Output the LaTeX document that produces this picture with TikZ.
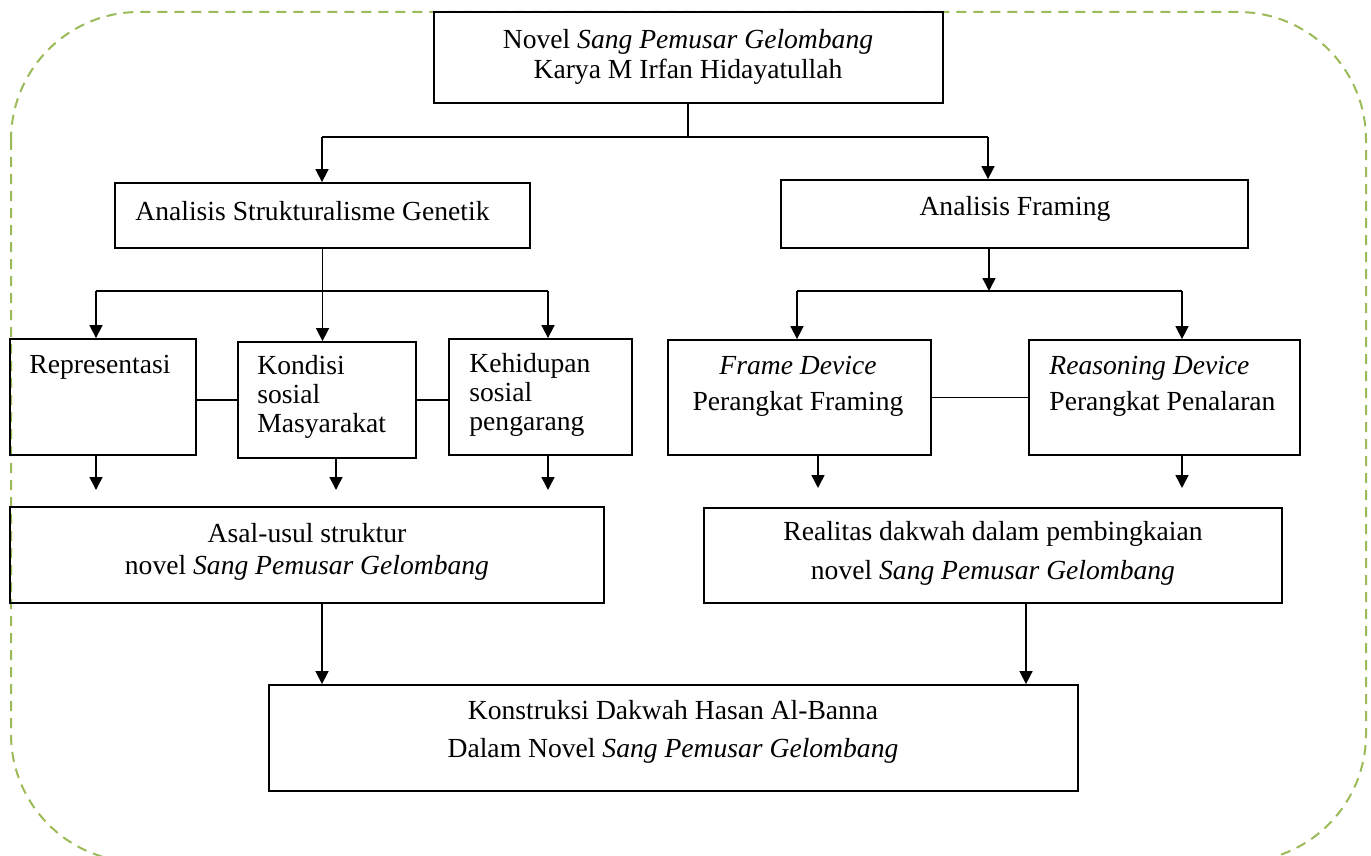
\documentclass[tikz,border=0pt]{standalone}
\usepackage{fontspec}
\setmainfont{Liberation Serif}
\usetikzlibrary{arrows.meta,fit,calc}

\definecolor{framegreen}{HTML}{9BBB59}

\begin{document}
\begin{tikzpicture}[
  x=0.5pt, y=-0.5pt,
  % --- boxes and connectors
  box/.style={draw, line width=0.9pt, inner sep=0pt},
  txt/.style={font=\fontsize{13.8}{#1}\selectfont, inner sep=0pt},
  txt/.default=15,
  link/.style={line width=0.8pt},
  arr/.style={link, -{Triangle[length=6.5pt,width=6.5pt]}},
]
\useasboundingbox (0,0) rectangle (1371,856);

% dashed outer frame
\draw[framegreen, line width=1pt, dash pattern=on 5pt off 3.5pt, rounded corners=64pt]
  (11,12) rectangle (1366,862);

%========================
% Boxes
%========================
\node[box, fit={(434,12)(943,103)}] (novel) {};
\node[box, fit={(115,183)(530,248)}] (asg) {};
\node[box, fit={(781,180)(1248,248)}] (af) {};

\node[box, fit={(10,339)(196,455)}] (rep) {};
\node[box, fit={(238,342)(416,458)}] (kondisi) {};
\node[box, fit={(449,339)(632,455)}] (keh) {};
\node[box, fit={(668,340)(931,455)}] (fd) {};
\node[box, fit={(1029,340)(1300,455)}] (rd) {};

\node[box, fit={(10,507)(604,603)}] (asal) {};
\node[box, fit={(704,508)(1282,603)}] (realitas) {};
\node[box, fit={(269,685)(1078,791)}] (konstruksi) {};

%========================
% Texts
%========================
\node[txt, align=center] (novel-t) at (688,57)
  {Novel \textit{Sang Pemusar Gelombang}\\Karya M Irfan Hidayatullah};
\node[txt, anchor=west] (asg-t) at (135,211) {Analisis Strukturalisme Genetik};
\node[txt] (af-t) at (1015,209) {Analisis Framing};
\node[txt] (rep-t) at (100,367) {Representasi};
\node[txt=14.5, align=left, anchor=west] (kondisi-t) at (257,397)
  {Kondisi\\sosial\\Masyarakat};
\node[txt=14.5, align=left, anchor=west] (keh-t) at (469,395)
  {Kehidupan\\sosial\\pengarang};
\node[txt=18, align=center] (fd-t) at (798,386)
  {\textit{Frame Device}\\Perangkat Framing};
\node[txt=18, align=left, anchor=west] (rd-t) at (1049,386)
  {\textit{Reasoning Device}\\Perangkat Penalaran};
\node[txt=16, align=center] (asal-t) at (307,552)
  {Asal-usul struktur\\novel \textit{Sang Pemusar Gelombang}};
\node[txt=19.5, align=center] (realitas-t) at (993,553)
  {Realitas dakwah dalam pembingkaian\\novel \textit{Sang Pemusar Gelombang}};
\node[txt=19, align=center] (konstruksi-t) at (673,732)
  {Konstruksi Dakwah Hasan Al-Banna\\Dalam Novel \textit{Sang Pemusar Gelombang}};

%========================
% Connectors
%========================
% top split
\coordinate (split) at (688,137);
\coordinate (splitL) at (322,137);
\coordinate (splitR) at (988,137);
\draw[link] (novel.south -| split) -- (split);
\draw[link] (splitL) -- (splitR);
\draw[arr] (splitL) -- (splitL |- asg.north);
\draw[arr] (splitR) -- (splitR |- af.north);

% left branch
\coordinate (lbL) at (96,291);
\coordinate (lbR) at (548,291);
\draw[link] (lbL) -- (lbR);
\draw[arr] (asg.south) -- (asg.south |- kondisi.north);
\draw[arr] (lbL) -- (lbL |- rep.north);
\draw[arr] (lbR) -- (lbR |- keh.north);
\draw[link] (kondisi.west -| rep.east) -- (kondisi.west);
\draw[link] (kondisi.east) -- (kondisi.east -| keh.west);

% right branch
\coordinate (rbM) at (989,291);
\coordinate (rbL) at (797,291);
\coordinate (rbR) at (1182,291);
\draw[arr] (rbM |- af.south) -- (rbM);
\draw[link] (rbL) -- (rbR);
\draw[arr] (rbL) -- (rbL |- fd.north);
\draw[arr] (rbR) -- (rbR |- rd.north);
\draw[link] (fd.east) -- (rd.west);

% free arrows below the middle row
\coordinate (repEnd) at (96,490);
\coordinate (konEnd) at (336,490);
\coordinate (kehEnd) at (548,490);
\coordinate (fdEnd) at (818,488);
\coordinate (rdEnd) at (1182,488);
\draw[arr] (repEnd |- rep.south) -- (repEnd);
\draw[arr] (konEnd |- kondisi.south) -- (konEnd);
\draw[arr] (kehEnd |- keh.south) -- (kehEnd);
\draw[arr] (fdEnd |- fd.south) -- (fdEnd);
\draw[arr] (rdEnd |- rd.south) -- (rdEnd);

% to the final box
\coordinate (asalOut) at (322,603);
\coordinate (realOut) at (1026,603);
\draw[arr] (asalOut) -- (asalOut |- konstruksi.north);
\draw[arr] (realOut) -- (realOut |- konstruksi.north);

\end{tikzpicture}
\end{document}
